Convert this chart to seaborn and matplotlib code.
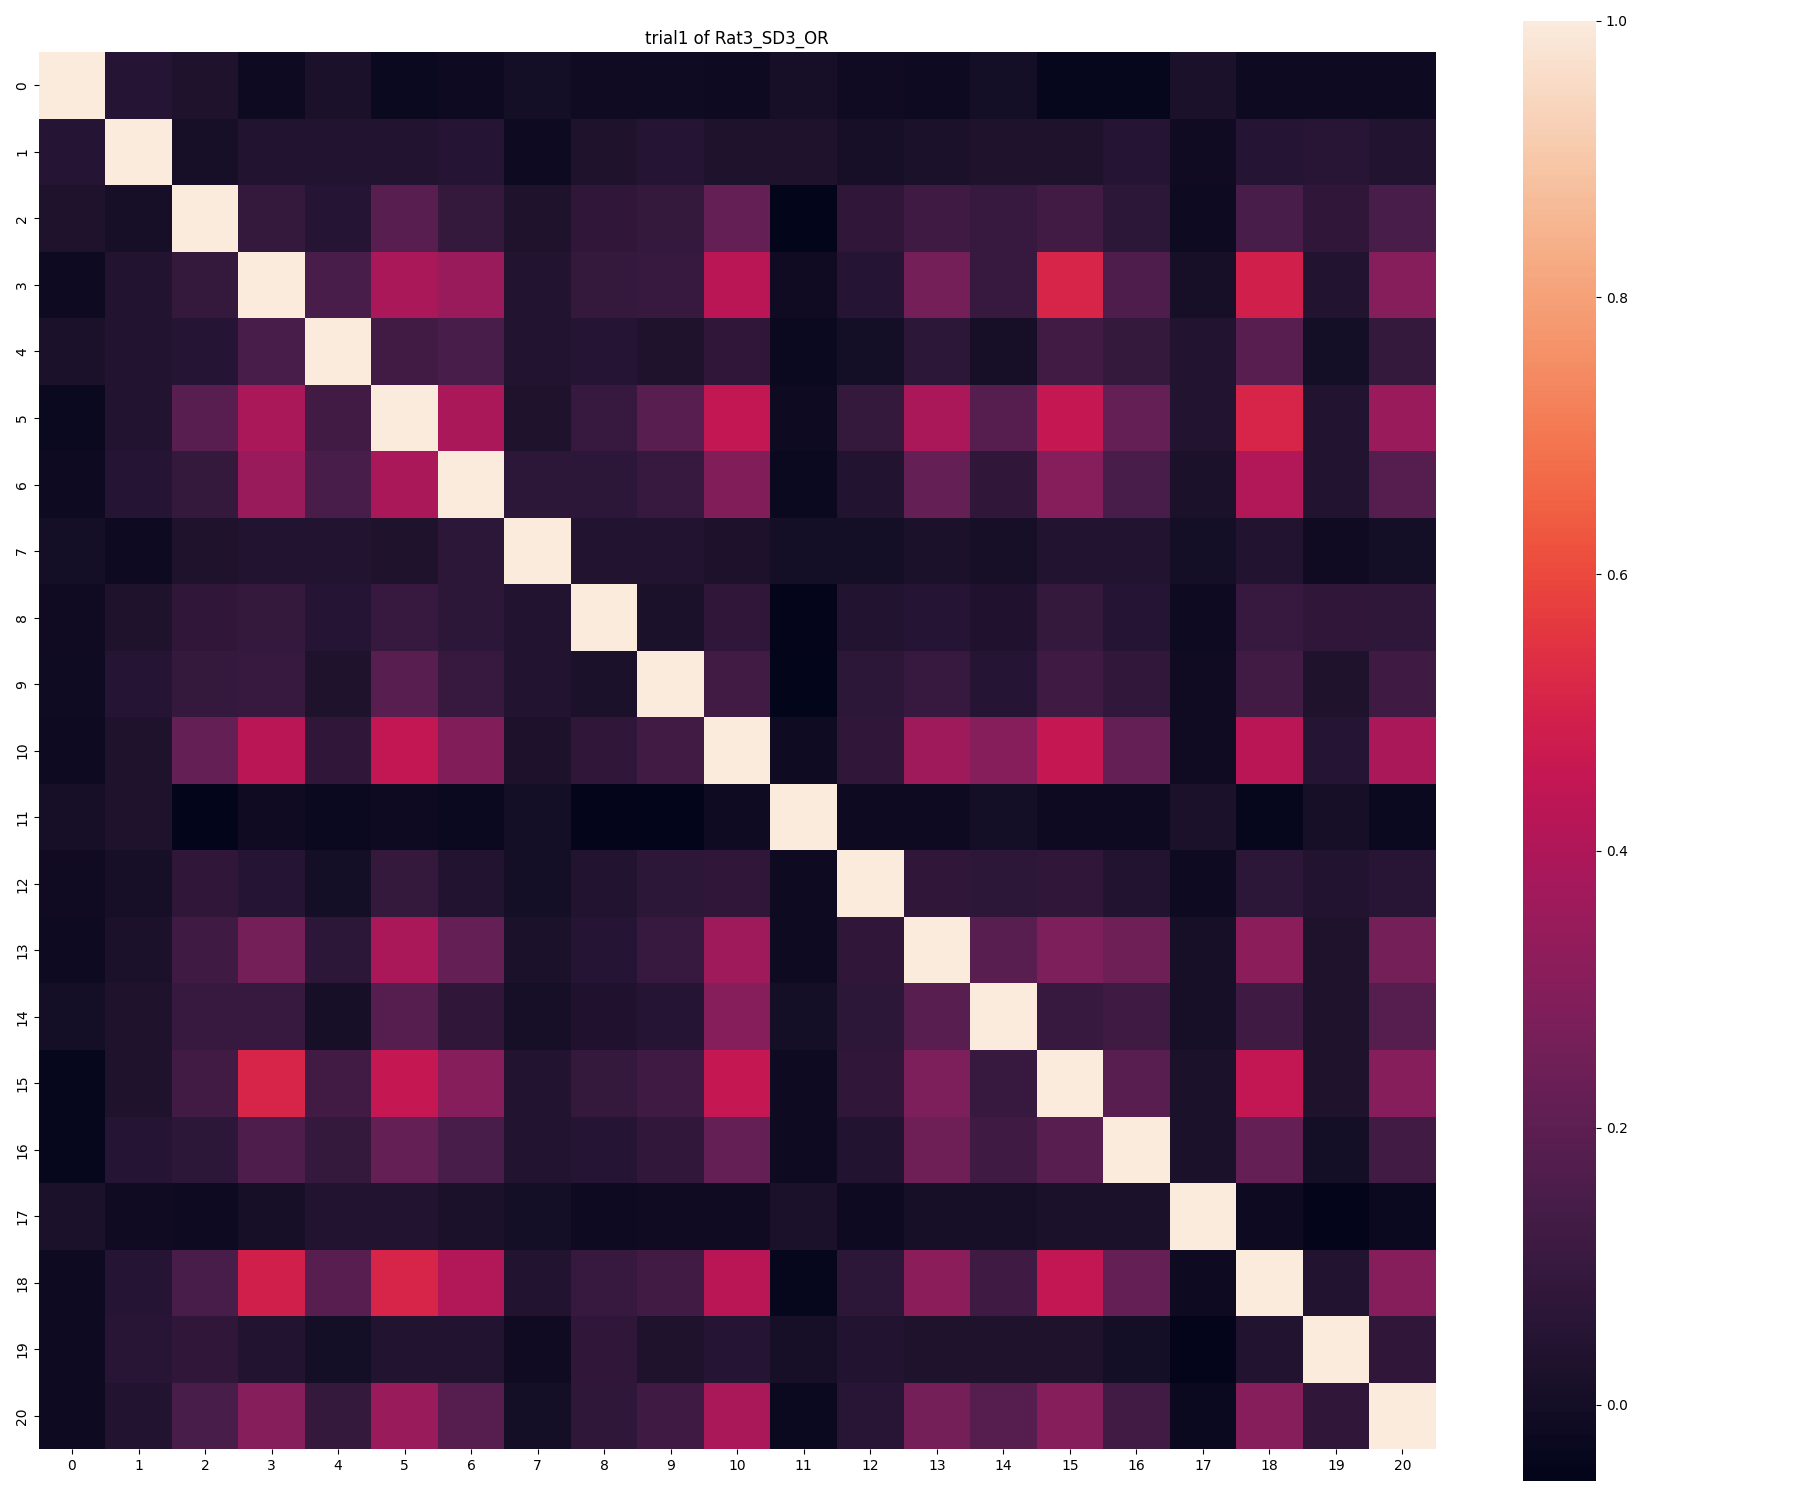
import numpy as np
import pandas as pd
import matplotlib
matplotlib.use("Agg")
import matplotlib.pyplot as plt
import seaborn as sns

labels = [str(i) for i in range(21)]

# upper-triangle values (row i, columns i+1..20)
upper = [
    [0.05, 0.03, -0.02, 0.02, -0.03, -0.02, 0.00, -0.01, -0.015, -0.02, 0.01, -0.01, -0.02, 0.00, -0.04, -0.04, 0.02, -0.02, -0.02, -0.02],
    [0.01, 0.04, 0.04, 0.04, 0.05, -0.02, 0.03, 0.05, 0.03, 0.03, 0.01, 0.02, 0.03, 0.03, 0.05, -0.01, 0.05, 0.06, 0.04],
    [0.09, 0.05, 0.19, 0.09, 0.03, 0.08, 0.09, 0.22, -0.055, 0.08, 0.12, 0.10, 0.13, 0.07, -0.02, 0.15, 0.08, 0.15],
    [0.15, 0.39, 0.35, 0.04, 0.09, 0.10, 0.43, -0.01, 0.05, 0.26, 0.10, 0.51, 0.16, 0.01, 0.49, 0.04, 0.30],
    [0.13, 0.15, 0.04, 0.05, 0.03, 0.08, -0.03, 0.00, 0.07, 0.01, 0.13, 0.09, 0.04, 0.19, 0.00, 0.09],
    [0.39, 0.03, 0.10, 0.19, 0.45, -0.02, 0.09, 0.39, 0.18, 0.46, 0.22, 0.04, 0.51, 0.04, 0.35],
    [0.07, 0.07, 0.10, 0.29, -0.03, 0.04, 0.22, 0.08, 0.30, 0.15, 0.02, 0.41, 0.04, 0.18],
    [0.04, 0.04, 0.025, 0.00, 0.00, 0.02, 0.01, 0.04, 0.04, 0.00, 0.04, -0.01, 0.00],
    [0.02, 0.08, -0.05, 0.04, 0.05, 0.035, 0.09, 0.05, -0.02, 0.10, 0.08, 0.075],
    [0.13, -0.055, 0.07, 0.10, 0.05, 0.12, 0.085, -0.01, 0.13, 0.03, 0.12],
    [-0.015, 0.08, 0.36, 0.30, 0.46, 0.22, -0.01, 0.43, 0.05, 0.39],
    [-0.02, -0.02, 0.00, -0.02, -0.02, 0.02, -0.04, 0.01, -0.03],
    [0.08, 0.07, 0.08, 0.04, -0.02, 0.07, 0.04, 0.06],
    [0.19, 0.28, 0.24, 0.01, 0.32, 0.03, 0.26],
    [0.10, 0.12, 0.01, 0.12, 0.03, 0.18],
    [0.19, 0.02, 0.45, 0.03, 0.30],
    [0.02, 0.22, 0.00, 0.13],
    [-0.02, -0.05, -0.03],
    [0.04, 0.30],
    [0.08],
    [],
]

n = len(labels)
mat = np.eye(n)
for i, row in enumerate(upper):
    for k, v in enumerate(row):
        j = i + 1 + k
        mat[i, j] = v
        mat[j, i] = v

df = pd.DataFrame(mat, index=labels, columns=labels)

fig, ax = plt.subplots(figsize=(18, 15), dpi=100)
sns.heatmap(df, square=True, ax=ax)
ax.set_title("trial1 of Rat3_SD3_OR")
plt.tight_layout()
fig.savefig("out.png")
